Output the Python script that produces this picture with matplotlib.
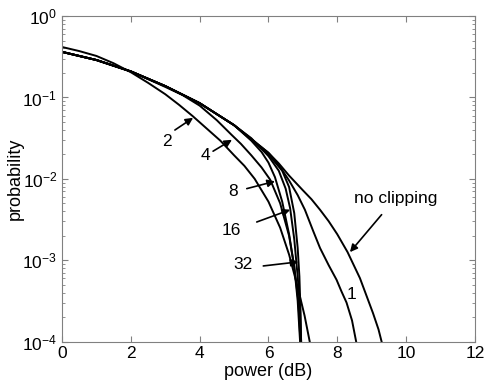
import numpy as np
import matplotlib
matplotlib.use('Agg')
from matplotlib import pyplot as plt

plt.rcParams['font.family'] = ['Liberation Sans', 'DejaVu Sans']
plt.rcParams['mathtext.fontset'] = 'custom'
plt.rcParams['mathtext.rm'] = 'Liberation Sans'
plt.rcParams['mathtext.it'] = 'Liberation Sans'

# curves: power (dB) and log10(probability)
noclip_x = [0, 1, 2, 3, 4, 5, 6, 6.3, 6.6, 7, 7.25, 7.5, 7.75, 8, 8.3, 8.66, 9.04, 9.2, 9.29]
noclip_y = [-0.44, -0.54, -0.68, -0.86, -1.07, -1.34, -1.68, -1.81, -1.96, -2.14, -2.25, -2.38, -2.52, -2.68, -2.9, -3.22, -3.65, -3.85, -4.0]

c1_x = [0, 1, 2, 3, 4, 5, 6, 6.3, 6.6, 6.85, 7.06, 7.3, 7.5, 7.75, 7.98, 8.12, 8.27, 8.43, 8.55]
c1_y = [-0.44, -0.54, -0.68, -0.86, -1.07, -1.34, -1.68, -1.83, -2.02, -2.2, -2.38, -2.64, -2.85, -3.06, -3.24, -3.38, -3.52, -3.74, -4.0]

c2_x = [0, 0.5, 1, 1.5, 2, 2.5, 3, 3.4, 3.8, 4.2, 4.6, 5.0, 5.3, 5.6, 6.0, 6.34, 6.6, 6.85, 7.05, 7.2]
c2_y = [-0.38, -0.43, -0.49, -0.58, -0.69, -0.82, -0.96, -1.09, -1.23, -1.38, -1.53, -1.71, -1.84, -2.0, -2.28, -2.6, -2.93, -3.33, -3.68, -4.0]

c4_x = [0, 1, 2, 3, 3.5, 4, 4.5, 4.93, 5.2, 5.5, 5.8, 6.05, 6.34, 6.6, 6.75, 6.85, 6.92]
c4_y = [-0.44, -0.54, -0.68, -0.87, -0.97, -1.1, -1.28, -1.46, -1.57, -1.71, -1.86, -2.01, -2.3, -2.7, -3.08, -3.5, -4.0]

c8_x = [0, 1, 2, 3, 4, 5, 5.5, 5.8, 6.0, 6.19, 6.4, 6.6, 6.75, 6.87, 6.93]
c8_y = [-0.44, -0.54, -0.68, -0.86, -1.07, -1.34, -1.53, -1.67, -1.8, -1.98, -2.28, -2.68, -3.08, -3.5, -4.0]

c16_x = [0, 1, 2, 3, 4, 5, 5.5, 6.0, 6.3, 6.5, 6.63, 6.75, 6.85, 6.92, 6.95]
c16_y = [-0.44, -0.54, -0.68, -0.86, -1.07, -1.34, -1.5, -1.72, -1.9, -2.12, -2.36, -2.74, -3.2, -3.6, -4.0]

c32_x = [0, 1, 2, 3, 4, 5, 6.0, 6.4, 6.6, 6.75, 6.85, 6.9, 6.93, 6.95]
c32_y = [-0.44, -0.54, -0.68, -0.86, -1.07, -1.34, -1.7, -1.9, -2.1, -2.42, -2.85, -3.2, -3.6, -4.0]

# labels: text, text position, arrow tail, arrow tip (dB, log10 p)
labels = ['2', '4', '8', '16', '32', 'no clipping']
label_pos = [(3.04, -1.54), (4.16, -1.71), (4.98, -2.16), (4.93, -2.63), (5.27, -3.05), (9.7, -2.24)]
arrow_tail = [(3.28, -1.40), (4.39, -1.66), (5.37, -2.12), (5.66, -2.53), (5.85, -3.07), (9.29, -2.44)]
arrow_tip = [(3.81, -1.25), (4.94, -1.52), (6.19, -2.03), (6.63, -2.38), (6.87, -3.02), (8.37, -2.9)]

fig = plt.figure(figsize=(4.85, 3.83), dpi=100)
ax = fig.add_axes([0.128, 0.108, 0.851, 0.85])

for xs, ys in [(noclip_x, noclip_y), (c1_x, c1_y), (c2_x, c2_y), (c4_x, c4_y),
               (c8_x, c8_y), (c16_x, c16_y), (c32_x, c32_y)]:
    ax.semilogy(xs, 10.0**np.array(ys), color='k', lw=1.4)

for t, p, a, b in zip(labels, label_pos, arrow_tail, arrow_tip):
    ax.text(p[0], 10**p[1], t, fontsize=12.5, ha='center', va='center')
    ax.annotate('', xy=(b[0], 10**b[1]), xytext=(a[0], 10**a[1]),
                arrowprops=dict(arrowstyle='-|>', color='k', lw=1.2,
                                mutation_scale=11, shrinkA=0, shrinkB=0))
ax.text(8.42, 10**-3.42, '1', fontsize=12.5, ha='center', va='center')

ax.set_xlim(0, 12)
ax.set_ylim(1e-4, 1)
ax.set_xticks(range(0, 13, 2))
ax.set_yticks([1e-4, 1e-3, 1e-2, 1e-1, 1])
ax.set_xlabel('power (dB)', fontsize=13, labelpad=1)
ax.set_ylabel('probability', fontsize=13, labelpad=-1)
ax.tick_params(which='both', direction='in', top=True, right=True, color='#808080',
               labelsize=12.5)
ax.tick_params(which='major', length=4)
ax.tick_params(which='minor', length=2)
for s in ax.spines.values():
    s.set_color('#808080')

plt.savefig('out.png', dpi=100)
